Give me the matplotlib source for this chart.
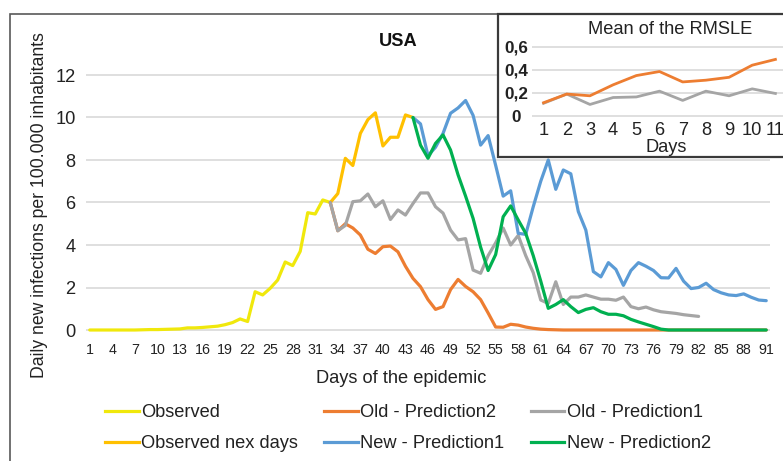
import numpy as np
import matplotlib
matplotlib.use("Agg")
import matplotlib.pyplot as plt
from matplotlib import font_manager
from matplotlib.patches import Rectangle
from matplotlib.lines import Line2D

# --- data (values per 100.000 inhabitants) ---
observed_start = 1
observed = [0, 0, 0, 0, 0, 0, 0, 0.01, 0.02, 0.02, 0.03, 0.04, 0.05, 0.1, 0.1,
            0.12, 0.15, 0.18, 0.25, 0.35, 0.52, 0.4, 1.8, 1.65, 1.96, 2.35, 3.2,
            3.03, 3.7, 5.52, 5.46, 6.12, 6.0]

observed_next_start = 33
observed_next = [6.0, 6.42, 8.08, 7.74, 9.25, 9.9, 10.22, 8.66, 9.07, 9.07,
                 10.12, 10.0]

old_p2_start = 33
old_p2 = [6.0, 4.67, 5.0, 4.8, 4.47, 3.8, 3.6, 3.92, 3.95, 3.68, 3.0, 2.43,
          2.04, 1.43, 0.97, 1.1, 1.9, 2.38, 2.05, 1.8, 1.43, 0.8, 0.14, 0.13,
          0.27, 0.23, 0.14, 0.08, 0.04, 0.02, 0.01] + [0] * 28

old_p1_start = 33
old_p1 = [6.0, 4.67, 4.92, 6.04, 6.08, 6.4, 5.8, 6.08, 5.2, 5.65, 5.41, 5.95,
          6.45, 6.45, 5.8, 5.5, 4.7, 4.24, 4.3, 2.82, 2.67, 3.5, 4.1, 4.8, 4.0,
          4.45, 3.5, 2.7, 1.41, 1.25, 2.27, 1.2, 1.55, 1.55, 1.65, 1.55, 1.45,
          1.45, 1.4, 1.55, 1.1, 1.0, 1.08, 0.95, 0.86, 0.82, 0.78, 0.72, 0.68,
          0.64]

new_p1_start = 44
new_p1 = [10.0, 9.7, 8.2, 8.6, 9.25, 10.2, 10.45, 10.8, 10.1, 8.7,
          9.15, 7.75, 6.3, 6.55, 4.55, 4.5, 5.8, 7.0, 8.0, 6.62,
          7.53, 7.35, 5.57, 4.7, 2.75, 2.5, 3.17, 2.85, 2.1, 2.8,
          3.17, 3.0, 2.8, 2.46, 2.45, 2.9, 2.3, 1.95, 2.0, 2.2,
          1.9, 1.75, 1.65, 1.62, 1.7, 1.54, 1.41, 1.38]

new_p2_start = 44
new_p2 = [10.0, 8.7, 8.08, 8.78, 9.18, 8.47, 7.3, 6.3, 5.25, 3.9,
          2.8, 3.55, 5.33, 5.84, 5.18, 4.55, 3.5, 2.3, 1.02, 1.2,
          1.43, 1.1, 0.82, 0.97, 1.05, 0.86, 0.74, 0.74, 0.67, 0.5,
          0.38, 0.27, 0.16, 0.04] + [0] * 14

xtick_days = list(range(1, 92, 3))

rmsle_days = list(range(1, 12))
rmsle_orange = [0.115, 0.19, 0.175, 0.27, 0.35, 0.385, 0.295, 0.31, 0.335, 0.44, 0.49]
rmsle_gray = [0.11, 0.19, 0.10, 0.16, 0.165, 0.215, 0.135, 0.215, 0.175, 0.235, 0.195]
rmsle_yticks = [0, 0.2, 0.4, 0.6]
rmsle_ylabels = ['0', '0,2', '0,4', '0,6']

# --- fonts ---
names = {f.name for f in font_manager.fontManager.ttflist}
if 'Liberation Sans Narrow' in names:
    plt.rcParams['font.family'] = ['Liberation Sans Narrow', 'DejaVu Sans']
    k = 1.0
else:
    plt.rcParams['font.family'] = ['Liberation Sans', 'DejaVu Sans']
    k = 0.82

W, H = 783, 461
def fx(px):
    return px / W
def fy(py):
    return 1 - py / H

C_OBS = '#F0E80C'
C_NEXT = '#FFC000'
C_OLD2 = '#ED7D31'
C_OLD1 = '#A5A5A5'
C_NEW1 = '#5B9BD5'
C_NEW2 = '#00B050'
GRID = '#D9D9D9'
LW = 2.3

fig = plt.figure(figsize=(W / 100, H / 100), dpi=100)

# main chart: y 0 at px 330, 21.25 px per unit
ylo, yhi = -0.15, 12.15
y0px, ppu = 330, 21.25
bot_px = y0px - ylo * ppu
top_px = y0px - yhi * ppu
ax = fig.add_axes([fx(86), fy(bot_px), (770 - 86) / W, (bot_px - top_px) / H])
ax.set_zorder(0)
ax.patch.set_alpha(0)
ax.set_xlim(0.5, 91.5)
ax.set_ylim(ylo, yhi)
for s in ax.spines.values():
    s.set_visible(False)
ax.set_yticks(range(0, 13, 2))
ax.yaxis.grid(True, color=GRID, lw=1.2)
ax.set_axisbelow(True)
ax.set_xticks(xtick_days)
ax.tick_params(axis='x', length=0, pad=7, labelsize=12.5 * k, colors='#222222')
ax.tick_params(axis='y', length=0, pad=7.5, labelsize=16 * k, colors='#222222')

def days(start, vals):
    return np.arange(start, start + len(vals))

series = [
    (observed_start, observed, C_OBS, 'Observed'),
    (observed_next_start, observed_next, C_NEXT, 'Observed nex days'),
    (old_p2_start, old_p2, C_OLD2, 'Old - Prediction2'),
    (old_p1_start, old_p1, C_OLD1, 'Old - Prediction1'),
    (new_p1_start, new_p1, C_NEW1, 'New - Prediction1'),
    (new_p2_start, new_p2, C_NEW2, 'New - Prediction2'),
]
handles = {}
for start, vals, col, lab in series:
    ln, = ax.plot(days(start, vals), vals, color=col, lw=LW, solid_joinstyle='round',
                  solid_capstyle='round', clip_on=False)
    handles[lab] = ln

fig.text(fx(398), fy(42), 'USA', ha='center', va='center', fontsize=16 * k,
         fontweight='bold', color='#111111')
fig.text(fx(40), fy(205), 'Daily new infections per 100.000 inhabitants', rotation=90,
         ha='center', va='center', fontsize=15.5 * k, color='#222222')
fig.text(fx(401), fy(378), 'Days of the epidemic', ha='center', va='center',
         fontsize=16 * k, color='#222222')

order = ['Observed', 'Observed nex days', 'Old - Prediction2', 'New - Prediction1',
         'Old - Prediction1', 'New - Prediction2']
leg_handles = [Line2D([], [], color=handles[o].get_color(), lw=LW) for o in order]
fig.legend(leg_handles, order, ncol=3, loc='upper left', bbox_to_anchor=(fx(105), fy(404)),
           frameon=False, fontsize=16 * k, handlelength=1.85, handletextpad=0.12,
           columnspacing=1.45, labelspacing=0.78, borderpad=0, borderaxespad=0,
           labelcolor='#222222')

# outer frame
fig.add_artist(Rectangle((fx(10), fy(475)), (795 - 10) / W, (475 - 14) / H,
                         transform=fig.transFigure, fill=False, edgecolor='#595959',
                         lw=1.2, zorder=0.5))

# inset box
fig.add_artist(Rectangle((fx(498), fy(157)), (805 - 498) / W, (157 - 14) / H,
                         transform=fig.transFigure, facecolor='white', edgecolor='#3a3a3a',
                         lw=1.6, zorder=1))

ins_lo, ins_hi = -0.005, 0.605
i0px, ippu = 116, (116 - 46.7) / 0.6
ibot = i0px - ins_lo * ippu
itop = i0px - ins_hi * ippu
ax2 = fig.add_axes([fx(532), fy(ibot), (787 - 532) / W, (ibot - itop) / H])
ax2.set_zorder(2)
ax2.patch.set_alpha(0)
ax2.set_xlim(0.5, 11.5)
ax2.set_ylim(ins_lo, ins_hi)
for s in ax2.spines.values():
    s.set_visible(False)
ax2.set_yticks(rmsle_yticks)
ax2.set_yticklabels(rmsle_ylabels, fontweight='bold')
for lbl in ax2.get_yticklabels():
    lbl.set_ha('center')
ax2.set_xticks(rmsle_days)
ax2.yaxis.grid(True, color=GRID, lw=1.2)
ax2.set_axisbelow(True)
ax2.tick_params(axis='y', length=0, pad=11.5, labelsize=15 * k, colors='#222222')
ax2.tick_params(axis='x', length=0, pad=4, labelsize=16 * k, colors='#222222')
ax2.plot(rmsle_days, rmsle_gray, color=C_OLD1, lw=2.0, solid_joinstyle='round')
ax2.plot(rmsle_days, rmsle_orange, color=C_OLD2, lw=2.0, solid_joinstyle='round')
fig.text(fx(670), fy(30), 'Mean of the RMSLE', ha='center', va='center',
         fontsize=16 * k, color='#222222', zorder=3)
fig.text(fx(666), fy(147), 'Days', ha='center', va='center',
         fontsize=16 * k, color='#222222', zorder=3)

fig.savefig('out.png', dpi=100)
